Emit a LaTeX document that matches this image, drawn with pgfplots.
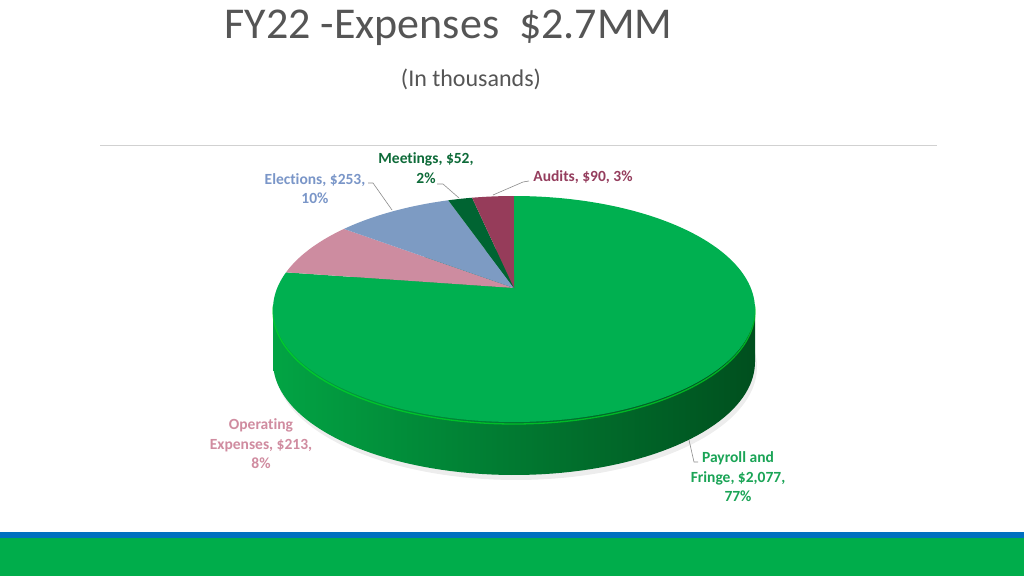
\documentclass[border=0pt]{standalone}
\usepackage{pgfplots}
\pgfplotsset{compat=1.18}
\usepackage{pgfplotstable}
\usepackage{fontspec}
\setmainfont{Carlito}[Ligatures={NoCommon,NoContextual}]
\definecolor{cPay}{HTML}{00B050}
\definecolor{cOpe}{HTML}{CD8CA0}
\definecolor{cEle}{HTML}{7D9BC3}
\definecolor{cMee}{HTML}{006432}
\definecolor{cAud}{HTML}{963C5A}
\definecolor{tPay}{HTML}{1AA456}
\definecolor{tOpe}{HTML}{D08CA0}
\definecolor{tEle}{HTML}{7A96C8}
\definecolor{tMee}{HTML}{0E6B39}
\definecolor{tAud}{HTML}{953E5E}
\definecolor{sideL}{HTML}{02A444}
\definecolor{sideM}{HTML}{088C3A}
\definecolor{sideR}{HTML}{004F1E}
\definecolor{titlegray}{HTML}{555555}
\definecolor{bandblue}{HTML}{0070C0}
\definecolor{bandgreen}{HTML}{00AD4B}
\pgfplotstableread{
name value
Payroll 2077
Operating 213
Elections 253
Meetings 52
Audits 90
}\expdata
\pgfplotstablegetelem{0}{value}\of\expdata \let\vA\pgfplotsretval
\pgfplotstablegetelem{1}{value}\of\expdata \let\vB\pgfplotsretval
\pgfplotstablegetelem{2}{value}\of\expdata \let\vC\pgfplotsretval
\pgfplotstablegetelem{3}{value}\of\expdata \let\vD\pgfplotsretval
\pgfplotstablegetelem{4}{value}\of\expdata \let\vE\pgfplotsretval
\pgfmathsetmacro{\tot}{\vA+\vB+\vC+\vD+\vE}
\pgfmathsetmacro{\aA}{90}
\pgfmathsetmacro{\aB}{\aA-360*(\vA/\tot)}
\pgfmathsetmacro{\aC}{\aB-360*(\vB/\tot)}
\pgfmathsetmacro{\aD}{\aC-360*(\vC/\tot)}
\pgfmathsetmacro{\aE}{\aD-360*(\vD/\tot)}
\pgfmathsetmacro{\aF}{\aE-360*(\vE/\tot)}
\begin{document}
\begin{tikzpicture}
\begin{axis}[
  width=1024pt, height=576pt, scale only axis,
  xmin=0, xmax=1024, ymin=0, ymax=576, y dir=reverse,
  hide axis, clip=false,
  declare function={
    px(\t)=514+236.8*cos(\t)/(1+0.1858*sin(\t));
    py(\t)=288-109.1*sin(\t)/(1+0.1858*sin(\t));
  },
]
% background and decorations
\fill[white] (axis cs:0,0) rectangle (axis cs:1024,576);
\fill[bandblue] (axis cs:0,531.5) rectangle (axis cs:1024,537.5);
\fill[bandgreen] (axis cs:0,537.5) rectangle (axis cs:1024,576);
\draw[color=black!18, line width=1pt] (axis cs:100,145) -- (axis cs:937,145);
% title
\node[font=\fontsize{44}{52}\selectfont, text=titlegray, anchor=base] at (axis cs:448.5,38) {FY22 -Expenses\ \ \$2.7MM};
\node[font=\fontsize{24}{29}\selectfont, text=titlegray, anchor=base] at (axis cs:471,86) {(In thousands)};
% shadow
\addplot[fill=black, opacity=0.07, draw=none, domain=0:360, samples=180] ({px(x)+2},{py(x)+58}) -- cycle;
% side wall
\addplot[draw=none, left color=sideL, middle color=sideM, right color=sideR, domain=0:360, samples=180]
  ({px(x)},{py(x)+53}) -- cycle (axis cs:273,309) rectangle (axis cs:755,362);
% bevel highlight
\addplot[draw=green!55!cPay, line width=1.3pt, opacity=0.7, domain=-172:-8, samples=120] ({px(x)},{py(x)+2});
% top slices
\addplot[fill=cPay, draw=none, domain=\aB:\aA, samples=160] ({px(x)},{py(x)}) -- (axis cs:514,288) -- cycle;
\addplot[fill=cOpe, draw=none, domain=\aC:\aB, samples=30] ({px(x)},{py(x)}) -- (axis cs:514,288) -- cycle;
\addplot[fill=cEle, draw=none, domain=\aD:\aC, samples=30] ({px(x)},{py(x)}) -- (axis cs:514,288) -- cycle;
\addplot[fill=cMee, draw=none, domain=\aE:\aD, samples=10] ({px(x)},{py(x)}) -- (axis cs:514,288) -- cycle;
\addplot[fill=cAud, draw=none, domain=\aF:\aE, samples=10] ({px(x)},{py(x)}) -- (axis cs:514,288) -- cycle;
% leader lines
\addplot[color=black!45, line width=0.6pt] coordinates {(368,183) (373,183) (392,210)};
\addplot[color=black!45, line width=0.6pt] coordinates {(437,184) (443,184) (459,198)};
\addplot[color=black!45, line width=0.6pt] coordinates {(529,181) (523,182) (493,195)};
\addplot[color=black!45, line width=0.6pt] coordinates {(698,462) (694,462) (689,440)};
% labels
\tikzset{lab/.style={font=\bfseries\fontsize{15.5}{19.5}\selectfont, align=center}}
\node[lab, text=tMee] at (axis cs:426,168) {Meetings, \$52,\\2\%};
\node[lab, text=tAud] at (axis cs:583,177) {Audits, \$90, 3\%};
\node[lab, text=tEle] at (axis cs:315,188.5) {Elections, \$253,\\10\%};
\node[lab, text=tOpe] at (axis cs:261,444) {Operating\\Expenses, \$213,\\8\%};
\node[lab, text=tPay] at (axis cs:738,477) {Payroll and\\Fringe, \$2,077,\\77\%};
\end{axis}
\end{tikzpicture}
\end{document}
